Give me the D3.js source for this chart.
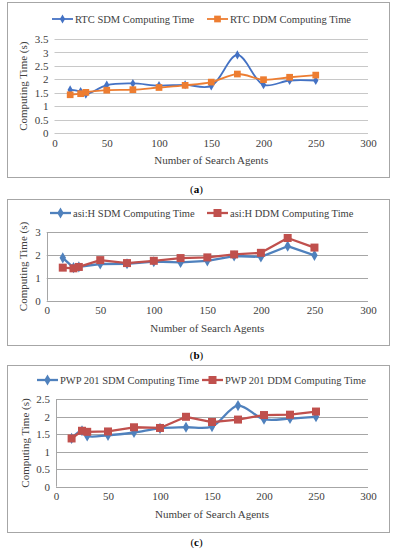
<!DOCTYPE html>
<html>
<head>
<meta charset="utf-8">
<script src="https://d3js.org/d3.v7.min.js"></script>
<style>
  body { margin: 0; background: #fff; }
  svg { display: block; }
  text { font-family: "Liberation Serif", "Times New Roman", "DejaVu Serif", serif; fill: #404040; }
</style>
</head>
<body>
<script type="text/javascript">

// number of search agents (x values, same for every panel)
var agents = [15, 25, 30, 50, 75, 100, 125, 150, 175, 200, 225, 250];

// (a) RTC
var rtcSDM = [1.61, 1.55, 1.45, 1.79, 1.85, 1.77, 1.80, 1.76, 2.91, 1.80, 1.96, 1.96];
var rtcDDM = [1.43, 1.47, 1.52, 1.60, 1.62, 1.70, 1.78, 1.90, 2.20, 1.99, 2.08, 2.16];

// (b) asi:H
var asiSDM = [1.88, 1.45, 1.48, 1.61, 1.62, 1.71, 1.68, 1.75, 1.96, 1.92, 2.39, 1.99];
var asiDDM = [1.45, 1.42, 1.48, 1.78, 1.65, 1.75, 1.87, 1.90, 2.03, 2.10, 2.75, 2.33];

// (c) PWP 201
var pwpSDM = [1.38, 1.60, 1.45, 1.47, 1.55, 1.67, 1.70, 1.72, 2.32, 1.93, 1.95, 2.00];
var pwpDDM = [1.38, 1.60, 1.57, 1.58, 1.70, 1.68, 2.00, 1.85, 1.92, 2.05, 2.06, 2.15];

var xTicks = [0, 50, 100, 150, 200, 250, 300];
var yTicksA = [0, 0.5, 1, 1.5, 2, 2.5, 3, 3.5];
var yTicksB = [0, 1, 2, 3];
var yTicksC = [0, 0.5, 1, 1.5, 2, 2.5];

var W = 393, H = 550;
var FONT = "Liberation Serif, Times New Roman, serif";
var svg = d3.select("body").append("svg").attr("width", W).attr("height", H);

function diamond(s) { return d3.symbol().type(d3.symbolDiamond).size(s)(); }
function square(s) { return d3.symbol().type(d3.symbolSquare).size(s)(); }

function drawPanel(p) {
  var g = svg.append("g");

  // frame around the chart
  g.append("rect")
    .attr("x", p.box[0] + 0.5).attr("y", p.box[1] + 0.5)
    .attr("width", p.box[2] - p.box[0]).attr("height", p.box[3] - p.box[1])
    .attr("fill", "#fff").attr("stroke", "#a6a6a6").attr("stroke-width", 1);

  var x = d3.scaleLinear().domain([0, 300]).range([p.left, p.right]);
  var y = d3.scaleLinear().domain([0, p.ymax]).range([p.bottom, p.top]);

  // horizontal gridlines
  g.selectAll(".grid").data(p.yTicks).enter().append("line")
    .attr("x1", p.left).attr("x2", p.right)
    .attr("y1", function (d) { return Math.round(y(d)) + 0.5; })
    .attr("y2", function (d) { return Math.round(y(d)) + 0.5; })
    .attr("stroke", p.gridColor).attr("stroke-width", 1);

  if (p.leftAxis) {
    g.append("line")
      .attr("x1", Math.round(p.left) + 0.5).attr("x2", Math.round(p.left) + 0.5)
      .attr("y1", p.top).attr("y2", p.bottom)
      .attr("stroke", p.gridColor);
  }

  // axes, d3 only used for the tick labels
  var fmt = function (d) { return String(d); };
  var xa = g.append("g").attr("transform", "translate(0," + p.bottom + ")")
    .call(d3.axisBottom(x).tickValues(xTicks).tickFormat(fmt).tickSize(0).tickPadding(6));
  var ya = g.append("g").attr("transform", "translate(" + p.left + ",0)")
    .call(d3.axisLeft(y).tickValues(p.yTicks).tickFormat(fmt).tickSize(0).tickPadding(6));
  [xa, ya].forEach(function (a) {
    a.attr("font-family", FONT).attr("font-size", 11);
    a.select(".domain").remove();
    a.selectAll("text").attr("fill", "#404040");
  });

  g.append("text")
    .attr("x", (p.left + p.right) / 2).attr("y", p.bottom + 31)
    .attr("text-anchor", "middle").attr("font-size", "11px")
    .text("Number of Search Agents");

  g.append("text")
    .attr("transform", "translate(" + p.ytitleX + "," + (p.top + p.bottom) / 2 + ") rotate(-90)")
    .attr("text-anchor", "middle").attr("font-size", "11px")
    .text("Computing Time (s)");

  // series
  p.series.forEach(function (s) {
    var line = d3.line()
      .x(function (d, i) { return x(agents[i]); })
      .y(function (d) { return y(d); })
      .curve(s.smooth ? d3.curveCatmullRom.alpha(0.5) : d3.curveLinear);
    g.append("path").datum(s.values)
      .attr("d", line).attr("fill", "none")
      .attr("stroke", s.color).attr("stroke-width", s.width)
      .attr("stroke-linejoin", "round");
    g.selectAll(null).data(s.values).enter().append("path")
      .attr("transform", function (d, i) { return "translate(" + x(agents[i]) + "," + y(d) + ")"; })
      .attr("d", s.marker == "diamond" ? diamond(s.msize) : square(s.msize))
      .attr("fill", s.color);
  });

  // legend
  p.series.forEach(function (s, i) {
    var lx = p.legend[i];
    g.append("line")
      .attr("x1", lx).attr("x2", lx + 21)
      .attr("y1", p.legendY).attr("y2", p.legendY)
      .attr("stroke", s.color).attr("stroke-width", s.width);
    g.append("path")
      .attr("transform", "translate(" + (lx + 10.5) + "," + p.legendY + ")")
      .attr("d", s.marker == "diamond" ? diamond(s.msize) : square(s.msize))
      .attr("fill", s.color);
    g.append("text")
      .attr("x", lx + 23).attr("y", p.legendY + 4)
      .attr("font-size", "10.5px")
      .text(s.name);
  });

  // panel caption
  var cap = g.append("text")
    .attr("x", W / 2).attr("y", p.caption)
    .attr("text-anchor", "middle").attr("font-size", "11px").style("fill", "#000");
  cap.append("tspan").text("(");
  cap.append("tspan").attr("font-weight", "bold").text(p.letter);
  cap.append("tspan").text(")");
}

drawPanel({
  box: [7, 2, 389, 177], left: 54.5, right: 368, top: 39, bottom: 133.3, ymax: 3.5,
  yTicks: yTicksA, gridColor: "#c8c8c8", leftAxis: false, ytitleX: 27,
  legendY: 19, legend: [52, 207], caption: 193, letter: "a",
  series: [
    { name: "RTC SDM Computing Time", values: rtcSDM, color: "#4472c4", width: 1.8, marker: "diamond", msize: 24, smooth: true },
    { name: "RTC DDM Computing Time", values: rtcDDM, color: "#ed7d31", width: 1.8, marker: "square", msize: 45, smooth: true }
  ]
});

drawPanel({
  box: [7, 199, 389, 345], left: 46.7, right: 368, top: 232.3, bottom: 300.7, ymax: 3,
  yTicks: yTicksB, gridColor: "#a6a6a6", leftAxis: true, ytitleX: 27,
  legendY: 213, legend: [50, 207], caption: 359, letter: "b",
  series: [
    { name: "asi:H SDM Computing Time", values: asiSDM, color: "#4f81bd", width: 2.3, marker: "diamond", msize: 36, smooth: false },
    { name: "asi:H DDM Computing Time", values: asiDDM, color: "#c0504d", width: 2.3, marker: "square", msize: 64, smooth: false }
  ]
});

drawPanel({
  box: [7, 365, 389, 532], left: 56, right: 368, top: 399.3, bottom: 486.7, ymax: 2.5,
  yTicks: yTicksC, gridColor: "#a6a6a6", leftAxis: true, ytitleX: 29,
  legendY: 380, legend: [37, 202], caption: 546, letter: "c",
  series: [
    { name: "PWP 201 SDM Computing Time", values: pwpSDM, color: "#4f81bd", width: 2.3, marker: "diamond", msize: 36, smooth: true },
    { name: "PWP 201 DDM Computing Time", values: pwpDDM, color: "#c0504d", width: 2.3, marker: "square", msize: 64, smooth: false }
  ]
});

</script>
</body>
</html>
